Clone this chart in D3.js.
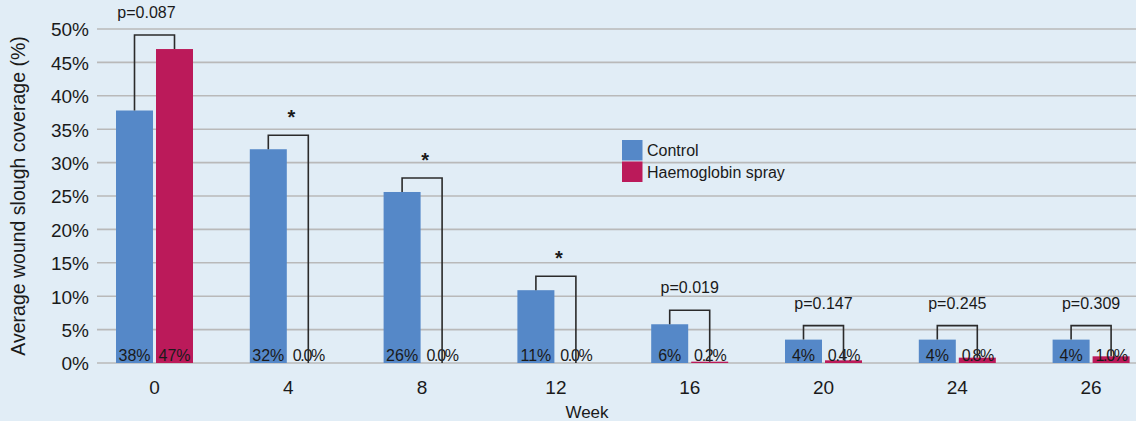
<!DOCTYPE html>
<html>
<head>
<meta charset="utf-8">
<script src="https://cdn.jsdelivr.net/npm/d3@7"></script>
<style>
  html, body { margin: 0; padding: 0; background: #e1edf6; }
  svg { display: block; font-family: "Liberation Sans", Arial, Helvetica, sans-serif; }
</style>
</head>
<body>
<svg id="chart" width="1136" height="421"></svg>
<script>
// Weeks of follow-up
const weeks = ["0", "4", "8", "12", "16", "20", "24", "26"];
// Series names
const seriesNames = ["Control", "Haemoglobin spray"];
// Average wound slough coverage (%) per week
const controlValues = [37.8, 32.0, 25.6, 10.9, 5.8, 3.5, 3.5, 3.5];
const sprayValues = [47.0, 0.0, 0.0, 0.0, 0.2, 0.4, 0.8, 1.0];
// Significance annotation per week
const significance = ["p=0.087", "*", "*", "*", "p=0.019", "p=0.147", "p=0.245", "p=0.309"];
// Y axis ticks
const yTicks = [0, 5, 10, 15, 20, 25, 30, 35, 40, 45, 50];

const W = 1136, H = 421;
const colors = { "Control": "#5588c8", "Haemoglobin spray": "#bb1a5a" };

const svg = d3.select("#chart");
svg.append("rect").attr("width", W).attr("height", H).attr("fill", "#e1edf6");

const y = d3.scaleLinear().domain([0, 50]).range([363, 29]);
const x0 = d3.scaleBand().domain(weeks).range([87.6, 87.6 + 8 * 133.8]).padding(0);
const groupW = 77;
const x1 = d3.scaleBand().domain(seriesNames).range([0, groupW]).paddingInner(0.075).paddingOuter(0);
const groupLeft = w => x0(w) + (x0.bandwidth() - groupW) / 2;

const rows = weeks.map((w, i) => ({
  week: w,
  values: [
    { s: "Control", v: controlValues[i] },
    { s: "Haemoglobin spray", v: sprayValues[i] }
  ],
  sig: significance[i]
}));

// Horizontal gridlines
svg.append("g")
  .selectAll("line").data(yTicks).join("line")
  .attr("x1", 97).attr("x2", W)
  .attr("y1", d => y(d)).attr("y2", d => y(d))
  .attr("stroke", "#b9b9b9").attr("stroke-width", 1.6);

// Y axis labels
const yAxis = d3.axisLeft(y).tickValues(yTicks).tickFormat(d => d + "%").tickSize(0).tickPadding(0);
const gy = svg.append("g").attr("transform", "translate(89,0)").call(yAxis);
gy.select(".domain").remove();
gy.selectAll("text").attr("font-size", 19).attr("fill", "#1a1a1a")
  .attr("font-family", "Liberation Sans, Arial, sans-serif").attr("dy", "0.36em");

// X axis labels
const xAxis = d3.axisBottom(x0).tickSize(0).tickPadding(0);
const gx = svg.append("g").attr("transform", "translate(0,380)").call(xAxis);
gx.select(".domain").remove();
gx.selectAll("text").attr("font-size", 19).attr("fill", "#1a1a1a")
  .attr("font-family", "Liberation Sans, Arial, sans-serif").attr("dy", "0.71em");

// Bars
const groups = svg.append("g").selectAll("g").data(rows).join("g")
  .attr("transform", d => `translate(${groupLeft(d.week)},0)`);

groups.selectAll("rect").data(d => d.values).join("rect")
  .attr("x", d => x1(d.s))
  .attr("width", x1.bandwidth())
  .attr("y", d => y(d.v))
  .attr("height", d => y(0) - y(d.v))
  .attr("fill", d => colors[d.s]);

// Value labels at the foot of each bar
const fmtLabel = d => (d.s === "Control" || d.v >= 10)
  ? d3.format(".0f")(d.v) + "%"
  : d3.format(".1f")(d.v) + "%";

groups.selectAll("text.val").data(d => d.values).join("text")
  .attr("class", "val")
  .attr("x", d => x1(d.s) + x1.bandwidth() / 2)
  .attr("y", y(0) - 2)
  .attr("text-anchor", "middle")
  .attr("font-size", 16)
  .attr("letter-spacing", d => d.v < 10 && d.s !== "Control" ? -1.3 : 0)
  .attr("fill", "#1a1a1a")
  .text(fmtLabel);

// Significance brackets
groups.append("path")
  .attr("d", d => {
    const xa = x1("Control") + x1.bandwidth() / 2;
    const xb = x1("Haemoglobin spray") + x1.bandwidth() / 2;
    const top = y(d3.max(d.values, v => v.v)) - 14;
    return `M${xa},${y(d.values[0].v)}V${top}H${xb}V${y(d.values[1].v)}`;
  })
  .attr("fill", "none").attr("stroke", "#2b2b2b").attr("stroke-width", 1.6);

groups.append("text")
  .attr("x", d => groupW / 2 + (d.sig === "*" ? 3 : 0) + (d.week === "0" ? -8 : 0))
  .attr("y", d => y(d3.max(d.values, v => v.v)) - 14 - (d.sig === "*" ? 11 : 17))
  .attr("text-anchor", "middle")
  .attr("font-size", d => d.sig === "*" ? 20 : 16)
  .attr("font-weight", d => d.sig === "*" ? "bold" : "normal")
  .attr("fill", "#1a1a1a")
  .text(d => d.sig);

// Legend
const legend = svg.append("g").attr("transform", "translate(622,140)");
const li = legend.selectAll("g").data(seriesNames).join("g")
  .attr("transform", (d, i) => `translate(0,${i * 21.5})`);
li.append("rect").attr("width", 20.5).attr("height", 20.5).attr("fill", d => colors[d]);
li.append("text").attr("x", 25).attr("y", 16).attr("font-size", 16).attr("fill", "#1a1a1a").text(d => d);

// Axis titles
svg.append("text")
  .attr("x", 587).attr("y", 418)
  .attr("text-anchor", "middle").attr("font-size", 17).attr("fill", "#1a1a1a")
  .text("Week");

svg.append("text")
  .attr("transform", "translate(25,196) rotate(-90)")
  .attr("text-anchor", "middle").attr("font-size", 19.5).attr("fill", "#1a1a1a")
  .text("Average wound slough coverage (%)");
</script>
</body>
</html>
